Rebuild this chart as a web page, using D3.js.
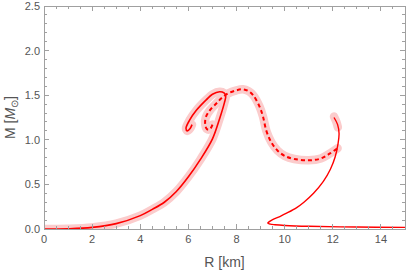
<!DOCTYPE html>
<html>
<head>
<meta charset="utf-8">
<script src="https://cdnjs.cloudflare.com/ajax/libs/d3/7.8.5/d3.min.js"></script>
<style>
  body { margin: 0; background: #fff; }
  .tick-label { font-family: "Liberation Sans", Arial, sans-serif; font-size: 11px; fill: #555; }
  .axis-label { font-family: "Liberation Sans", Arial, sans-serif; font-size: 14px; fill: #555; }
</style>
</head>
<body>
<div class="mr-chart"></div>
<script>
// branch with halo, starts at the origin
var branchR = [0, 1, 2, 3, 4, 4.5, 5, 5.5, 6, 6.5, 7, 7.3, 7.5, 7.55, 7.48, 7.3, 7.0, 6.75, 6.33, 6.05, 5.9, 5.95, 6.08, 6.15];
var branchM = [0, 0.003, 0.018, 0.06, 0.15, 0.22, 0.30, 0.42, 0.585, 0.78, 1.01, 1.24, 1.42, 1.49, 1.525, 1.538, 1.51, 1.45, 1.33, 1.22, 1.13, 1.10, 1.13, 1.17];

// dashed branch with halo
var dashR = [7.0, 6.9, 6.77, 6.7, 6.72, 6.89, 7.17, 7.37, 7.65, 8.0, 8.27, 8.5, 8.69, 8.96, 9.1, 9.24, 9.45, 9.7, 10.0, 10.4, 11.0, 11.5, 11.9, 12.2];
var dashM = [1.17, 1.12, 1.12, 1.17, 1.25, 1.33, 1.41, 1.465, 1.52, 1.555, 1.566, 1.545, 1.50, 1.37, 1.26, 1.10, 0.97, 0.88, 0.82, 0.785, 0.77, 0.79, 0.85, 0.905];

// thin branch along the bottom
var thinR = [15, 13, 11, 10, 9.6, 9.4, 9.3, 9.35, 9.5, 9.8, 10.1, 10.5, 10.8, 11.2, 11.6, 11.9, 12.1, 12.22, 12.26, 12.2, 12.05];
var thinM = [0.018, 0.022, 0.03, 0.04, 0.048, 0.055, 0.066, 0.08, 0.105, 0.14, 0.18, 0.24, 0.30, 0.40, 0.53, 0.67, 0.81, 0.96, 1.07, 1.17, 1.25];

// short halo on top of the thin branch
var stubR = [12.05, 12.15, 12.21];
var stubM = [1.26, 1.20, 1.14];

// ticks
var xMajor = [0, 2, 4, 6, 8, 10, 12, 14];
var yMajor = [0.0, 0.5, 1.0, 1.5, 2.0, 2.5];

var margin = {top: 6, right: 2, bottom: 43, left: 44},
    width = 407 - margin.left - margin.right,
    height = 272 - margin.top - margin.bottom;

var x = d3.scaleLinear().domain([0, 15]).range([0, width]);
var y = d3.scaleLinear().domain([0, 2.5]).range([height, 0]);

function pts(rs, ms) {
    return rs.map(function(r, i) { return [r, ms[i]]; });
}

var line = d3.line()
    .x(function(d) { return x(d[0]); })
    .y(function(d) { return y(d[1]); })
    .curve(d3.curveCatmullRom.alpha(0.5));

var svg = d3.select(".mr-chart").append("svg")
    .attr("width", width + margin.left + margin.right)
    .attr("height", height + margin.top + margin.bottom)
  .append("g")
    .attr("transform", `translate(${margin.left}, ${margin.top})`);

svg.append("clipPath").attr("id", "plot-clip")
  .append("rect").attr("width", width).attr("height", height + 1);

var plot = svg.append("g").attr("clip-path", "url(#plot-clip)");

// halos first
var halo = "#fbcccc";
[pts(branchR, branchM), pts(dashR, dashM), pts(stubR, stubM)].forEach(function(p) {
    plot.append("path")
        .datum(p)
        .attr("fill", "none")
        .attr("stroke", halo)
        .attr("stroke-width", 8.5)
        .attr("stroke-linecap", "round")
        .attr("stroke-linejoin", "round")
        .attr("d", line);
});

// red lines
plot.append("path")
    .datum(pts(branchR, branchM))
    .attr("fill", "none")
    .attr("stroke", "#ff0000")
    .attr("stroke-width", 1.6)
    .attr("d", line);

plot.append("path")
    .datum(pts(dashR, dashM))
    .attr("fill", "none")
    .attr("stroke", "#ff0000")
    .attr("stroke-width", 2)
    .attr("stroke-dasharray", "4,3")
    .attr("d", line);

plot.append("path")
    .datum(pts(thinR, thinM))
    .attr("fill", "none")
    .attr("stroke", "#ff0000")
    .attr("stroke-width", 1.4)
    .attr("d", line);

// frame
var frameColor = "#a0a0a0";
svg.append("rect")
    .attr("width", width)
    .attr("height", height)
    .attr("fill", "none")
    .attr("stroke", frameColor)
    .attr("stroke-width", 1)
    .attr("shape-rendering", "crispEdges");

// ticks, pointing inwards on all four sides
var ticks = svg.append("g")
    .attr("stroke", frameColor)
    .attr("shape-rendering", "crispEdges");

d3.range(0, 15.001, 0.5).forEach(function(v) {
    var len = (v % 2 === 0) ? 5 : 3;
    ticks.append("line").attr("x1", x(v)).attr("x2", x(v)).attr("y1", height).attr("y2", height - len);
    ticks.append("line").attr("x1", x(v)).attr("x2", x(v)).attr("y1", 0).attr("y2", len);
});

d3.range(0, 26).forEach(function(i) {
    var v = i / 10;
    var len = (i % 5 === 0) ? 5 : 3;
    ticks.append("line").attr("y1", y(v)).attr("y2", y(v)).attr("x1", 0).attr("x2", len);
    ticks.append("line").attr("y1", y(v)).attr("y2", y(v)).attr("x1", width).attr("x2", width - len);
});

// tick labels
svg.selectAll(".xl")
    .data(xMajor)
  .enter().append("text")
    .attr("class", "tick-label")
    .attr("x", function(d) { return x(d); })
    .attr("y", height + 14)
    .style("text-anchor", "middle")
    .text(function(d) { return d; });

svg.selectAll(".yl")
    .data(yMajor)
  .enter().append("text")
    .attr("class", "tick-label")
    .attr("x", -4)
    .attr("y", function(d) { return y(d) + 4; })
    .style("text-anchor", "end")
    .text(function(d) { return d3.format(".1f")(d); });

// axis labels
svg.append("text")
    .attr("class", "axis-label")
    .attr("x", width / 2)
    .attr("y", height + 38)
    .style("text-anchor", "middle")
    .text("R [km]");

var yl = svg.append("text")
    .attr("class", "axis-label")
    .attr("transform", `translate(${-margin.left + 15}, ${height / 2}) rotate(-90)`)
    .style("text-anchor", "middle");
yl.append("tspan").text("M [");
yl.append("tspan").style("font-style", "italic").text("M");
yl.append("tspan").attr("dy", 3).style("font-size", "10px").text("⊙");
yl.append("tspan").attr("dy", -3).text("]");
</script>
</body>
</html>
